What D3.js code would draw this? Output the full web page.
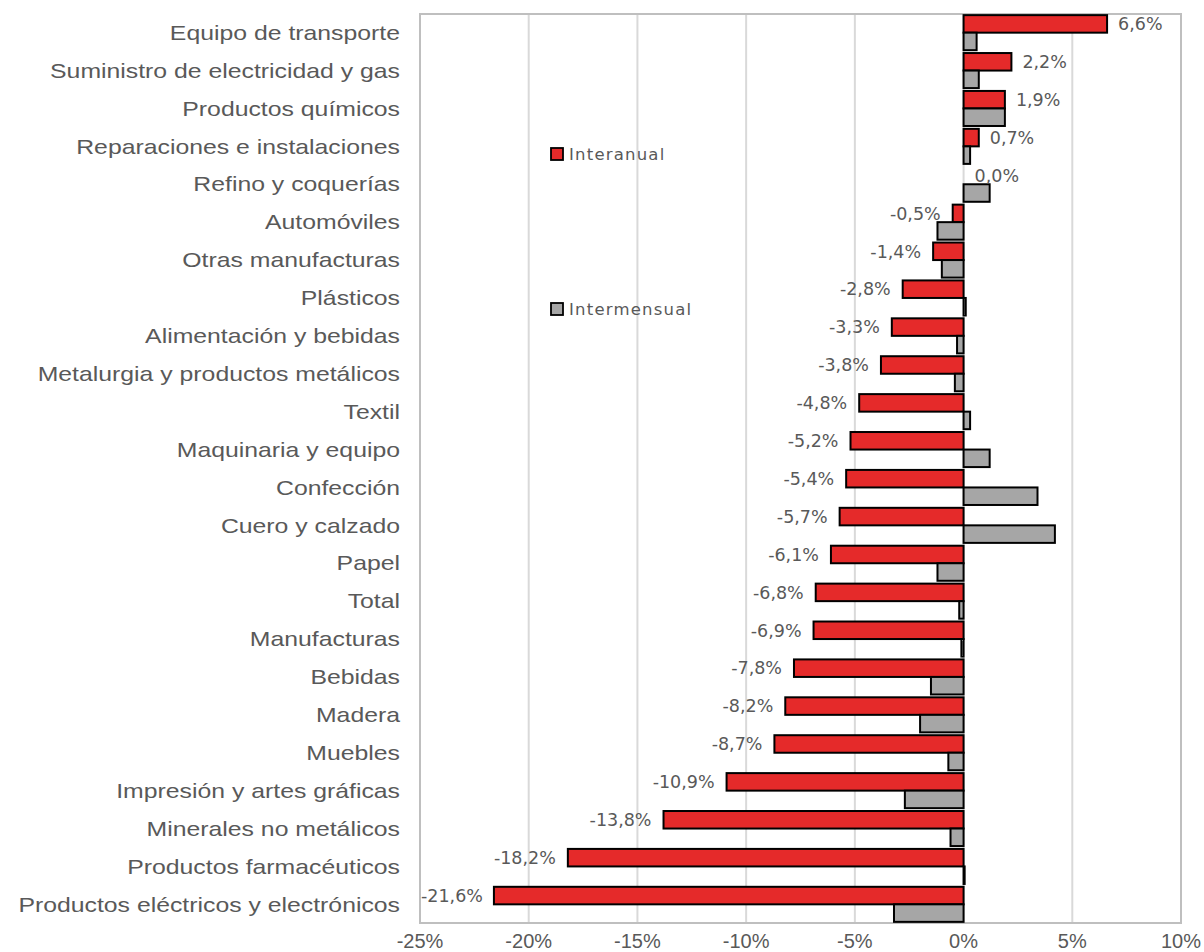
<!DOCTYPE html>
<html>
<head>
<meta charset="utf-8">
<script src="https://cdn.jsdelivr.net/npm/d3@7/dist/d3.min.js"></script>
<style>
  html, body { margin: 0; padding: 0; background: #ffffff; }
  svg { display: block; }
</style>
</head>
<body>
<svg id="chart" width="1204" height="952"></svg>
<script>
// Sectors, top to bottom
const categories = [
  "Equipo de transporte",
  "Suministro de electricidad y gas",
  "Productos químicos",
  "Reparaciones e instalaciones",
  "Refino y coquerías",
  "Automóviles",
  "Otras manufacturas",
  "Plásticos",
  "Alimentación y bebidas",
  "Metalurgia y productos metálicos",
  "Textil",
  "Maquinaria y equipo",
  "Confección",
  "Cuero y calzado",
  "Papel",
  "Total",
  "Manufacturas",
  "Bebidas",
  "Madera",
  "Muebles",
  "Impresión y artes gráficas",
  "Minerales no metálicos",
  "Productos farmacéuticos",
  "Productos eléctricos y electrónicos"
];

// Year-on-year change (%)
const interanual = [6.6, 2.2, 1.9, 0.7, 0.0, -0.5, -1.4, -2.8, -3.3, -3.8, -4.8, -5.2,
  -5.4, -5.7, -6.1, -6.8, -6.9, -7.8, -8.2, -8.7, -10.9, -13.8, -18.2, -21.6];

// Month-on-month change (%)
const intermensual = [0.6, 0.7, 1.9, 0.3, 1.2, -1.2, -1.0, 0.1, -0.3, -0.4, 0.3, 1.2,
  3.4, 4.2, -1.2, -0.2, -0.1, -1.5, -2.0, -0.7, -2.7, -0.6, 0.05, -3.2];

const seriesNames = ["Interanual", "Intermensual"];
const seriesColors = ["#e52a2a", "#a6a6a6"];

const xTicks = [-25, -20, -15, -10, -5, 0, 5, 10];

const svg = d3.select("#chart");
const plot = { left: 420, right: 1181, top: 14, bottom: 923 };

const x = d3.scaleLinear().domain([-25, 10]).range([plot.left, plot.right]);
const y = d3.scaleBand().domain(categories).range([plot.top, plot.bottom])
  .paddingInner(0.075).paddingOuter(0.03);
const ySub = d3.scaleBand().domain(seriesNames).range([0, y.bandwidth()]);

const textGray = "#595959";

// Vertical gridlines
svg.append("g")
  .selectAll("line")
  .data(xTicks)
  .join("line")
  .attr("x1", d => x(d)).attr("x2", d => x(d))
  .attr("y1", plot.top).attr("y2", plot.bottom)
  .attr("stroke", "#d9d9d9")
  .attr("stroke-width", 2);

// Plot frame
svg.append("rect")
  .attr("x", plot.left).attr("y", plot.top)
  .attr("width", plot.right - plot.left).attr("height", plot.bottom - plot.top)
  .attr("fill", "none")
  .attr("stroke", "#bfbfbf")
  .attr("stroke-width", 2);

// Bars
const rows = categories.map((c, i) => ({ cat: c, vals: [interanual[i], intermensual[i]] }));

const groups = svg.append("g")
  .selectAll("g")
  .data(rows)
  .join("g")
  .attr("transform", d => `translate(0,${y(d.cat)})`);

groups.selectAll("rect")
  .data(d => d.vals.map((v, k) => ({ v, k })))
  .join("rect")
  .attr("x", d => x(Math.min(0, d.v)))
  .attr("y", d => ySub(seriesNames[d.k]))
  .attr("width", d => Math.abs(x(d.v) - x(0)))
  .attr("height", ySub.bandwidth())
  .attr("fill", d => seriesColors[d.k])
  .attr("stroke", "#000")
  .attr("stroke-width", 2);

// Value labels on the year-on-year bars
const fmt = v => v.toFixed(1).replace(".", ",") + "%";
const labels = svg.append("g")
  .selectAll("text")
  .data(rows)
  .join("text")
  .attr("y", d => y(d.cat) + ySub("Interanual") + ySub.bandwidth() / 2)
  .attr("dy", "0.36em")
  .attr("font-family", "'DejaVu Sans', sans-serif")
  .attr("font-size", 17.5)
  .attr("fill", textGray)
  .text(d => fmt(d.vals[0]));

labels.each(function(d) {
  const t = d3.select(this);
  const v = d.vals[0];
  if (v >= 0) {
    t.attr("x", x(v) + 11).attr("text-anchor", "start");
  } else {
    const w = this.getComputedTextLength();
    let xe = x(v) - 12;
    if (xe - w < plot.left + 1) xe = plot.left + 1 + w;
    t.attr("x", xe).attr("text-anchor", "end");
  }
});

// Category labels
svg.append("g")
  .selectAll("text")
  .data(categories)
  .join("text")
  .attr("transform", d => `translate(400,${y(d) + y.bandwidth() / 2}) scale(1.24,1)`)
  .attr("dy", "0.36em")
  .attr("text-anchor", "end")
  .attr("font-family", "'Liberation Sans', Arial, sans-serif")
  .attr("font-size", 20)
  .attr("fill", textGray)
  .text(d => d);

// X axis tick labels
svg.append("g")
  .selectAll("text")
  .data(xTicks)
  .join("text")
  .attr("x", d => x(d))
  .attr("y", 948)
  .attr("text-anchor", "middle")
  .attr("font-family", "'Liberation Sans Narrow', 'Liberation Sans', Arial, sans-serif")
  .attr("font-size", 20)
  .attr("fill", textGray)
  .text(d => d + "%");

// Legend
const legendPos = [{ x: 550, y: 147 }, { x: 550, y: 302 }];
const legend = svg.append("g")
  .selectAll("g")
  .data(seriesNames)
  .join("g")
  .attr("transform", (d, i) => `translate(${legendPos[i].x},${legendPos[i].y})`);

legend.append("rect")
  .attr("x", 1).attr("y", 1)
  .attr("width", 12).attr("height", 12)
  .attr("fill", (d, i) => seriesColors[i])
  .attr("stroke", "#000")
  .attr("stroke-width", 1.8);

legend.append("text")
  .attr("x", 19)
  .attr("y", 7)
  .attr("dy", "0.36em")
  .attr("font-family", "'DejaVu Sans', sans-serif")
  .attr("font-size", 16.5)
  .attr("letter-spacing", 1.2)
  .attr("fill", textGray)
  .text(d => d);
</script>
</body>
</html>
